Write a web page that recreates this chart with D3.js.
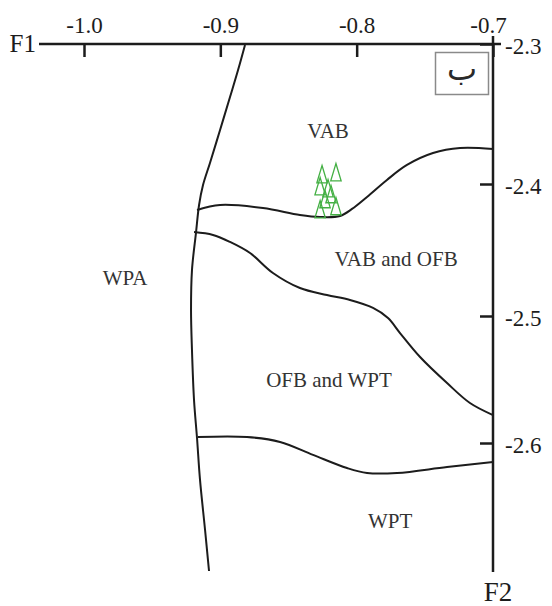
<!DOCTYPE html>
<html><head><meta charset="utf-8">
<script src="https://cdn.jsdelivr.net/npm/d3@7"></script>
<style>
html,body{margin:0;padding:0;background:#fff;}
svg{display:block;}
svg text{font-family:"Liberation Serif","DejaVu Serif","Times New Roman",serif;}
svg text.ar{font-family:"DejaVu Sans","Noto Sans",sans-serif;}
</style></head>
<body>
<svg id="chart" width="552" height="606"></svg>
<script>
// ---- data ----
const xTicks = [-1.0, -0.9, -0.8, -0.7];
const yTicks = [-2.3, -2.4, -2.5, -2.6];
const xLabel = "F1";
const yLabel = "F2";
const panelTag = "ب";

// WPA boundary (left)
const boundaryWPA = [
  [-0.8819,-2.3007],[-0.8870,-2.3186],[-0.8929,-2.3379],[-0.9002,-2.3614],
  [-0.9076,-2.3850],[-0.9127,-2.4008],[-0.9156,-2.4159],[-0.9178,-2.4364],
  [-0.9208,-2.4652],[-0.9215,-2.4955],[-0.9208,-2.5268],[-0.9193,-2.5661],
  [-0.9171,-2.5961],[-0.9149,-2.6291],[-0.9112,-2.6685],[-0.9083,-2.7008]
];
// VAB / VAB and OFB boundary
const boundaryVAB = [
  [-0.9171,-2.4197],[-0.9002,-2.4159],[-0.8687,-2.4182],[-0.8416,-2.4235],
  [-0.8269,-2.4250],[-0.8122,-2.4242],[-0.8034,-2.4189],[-0.7924,-2.4098],
  [-0.7778,-2.3971],[-0.7631,-2.3864],[-0.7440,-2.3779],[-0.7242,-2.3743],
  [-0.7000,-2.3750]
];
// VAB and OFB / OFB and WPT boundary
const boundaryOFB = [
  [-0.9193,-2.4364],[-0.9054,-2.4386],[-0.8929,-2.4439],[-0.8782,-2.4523],
  [-0.8614,-2.4674],[-0.8416,-2.4788],[-0.8218,-2.4841],[-0.8049,-2.4879],
  [-0.7880,-2.4939],[-0.7770,-2.5016],[-0.7682,-2.5134],[-0.7535,-2.5323],
  [-0.7337,-2.5528],[-0.7169,-2.5685],[-0.7000,-2.5780]
];
// OFB and WPT / WPT boundary
const boundaryWPT = [
  [-0.9164,-2.5953],[-0.8804,-2.5953],[-0.8562,-2.5992],[-0.8320,-2.6094],
  [-0.8071,-2.6197],[-0.7924,-2.6236],[-0.7704,-2.6236],[-0.7337,-2.6189],
  [-0.7000,-2.6150]
];
// samples (triangles)
const sampleF1 = [-0.8254,-0.8152,-0.8268,-0.8210,-0.8188,-0.8268,-0.8152,-0.8232];
const sampleF2 = [-2.3950,-2.3936,-2.4038,-2.4053,-2.4098,-2.4212,-2.4189,-2.4136];
// region labels
const regionNames = ["VAB","VAB and OFB","OFB and WPT","WPA","WPT"];
const regionF1 = [-0.8210,-0.7711,-0.8203,-0.9699,-0.7755];
const regionF2 = [-2.3671,-2.4621,-2.5559,-2.4765,-2.6669];

// ---- scales ----
const x = d3.scaleLinear().domain([-1.0,-0.7]).range([84,493]);
const y = d3.scaleLinear().domain([-2.3,-2.4,-2.5,-2.6,-2.7]).range([44,184,316,443,570]);

const svg = d3.select("#chart");
const ink = "#1c1c1c";

// boundaries
const line = d3.line().x(d=>x(d[0])).y(d=>y(d[1])).curve(d3.curveCatmullRom.alpha(0.5));
[boundaryWPA, boundaryVAB, boundaryOFB, boundaryWPT].forEach(b=>{
  svg.append("path").attr("d", line(b)).attr("fill","none")
    .attr("stroke",ink).attr("stroke-width",2);
});

// axes
const fmt = d=>d3.format(".1f")(d).replace("\u2212","-");
const axTop = svg.append("g").attr("transform",`translate(0,${y(-2.3)})`)
  .call(d3.axisTop(x).tickValues(xTicks).tickFormat(fmt).tickSize(-13).tickPadding(11));
const axRight = svg.append("g").attr("transform",`translate(${x(-0.7)},0)`)
  .call(d3.axisRight(y).tickValues(yTicks).tickFormat(fmt).tickSize(-13).tickPadding(12));
[axTop, axRight].forEach(g=>{
  g.select(".domain").remove();
  g.attr("font-family",null).attr("font-size",null);
  g.selectAll(".tick line").attr("stroke",ink).attr("stroke-width",2.5);
  g.selectAll(".tick text").style("font-size","23px").attr("fill",ink);
});
axTop.selectAll(".tick text").attr("dx",d=>d===-0.7?-5:0);
axRight.selectAll(".tick text").attr("dy","0.42em");

// axis lines
svg.append("line").attr("x1",39).attr("x2",x(-0.7)+8).attr("y1",y(-2.3)).attr("y2",y(-2.3))
  .attr("stroke",ink).attr("stroke-width",2.5);
svg.append("line").attr("x1",x(-0.7)).attr("x2",x(-0.7)).attr("y1",y(-2.3)-8).attr("y2",y(-2.7)+2)
  .attr("stroke",ink).attr("stroke-width",2.5);

// axis titles
svg.append("text").attr("x",36).attr("y",y(-2.3)+8).attr("text-anchor","end")
  .style("font-size","25px").attr("fill",ink).text(xLabel);
svg.append("text").attr("x",x(-0.7)+5).attr("y",601).attr("text-anchor","middle")
  .style("font-size","27px").attr("fill",ink).text(yLabel);

// panel tag box
svg.append("rect").attr("x",435.5).attr("y",52.5).attr("width",53).attr("height",42)
  .attr("fill","#fff").attr("stroke","#8a8a8a").attr("stroke-width",1.5);
svg.append("text").attr("class","ar").attr("x",462).attr("y",80).attr("text-anchor","middle")
  .style("font-size","32px").attr("fill","#2a2a2a").text(panelTag);

// region labels
svg.append("g").selectAll("text").data(regionNames).join("text")
  .attr("x",(d,i)=>x(regionF1[i])).attr("y",(d,i)=>y(regionF2[i]))
  .attr("text-anchor","middle").style("font-size","21px")
  .attr("fill","#333").text(d=>d);

// triangles (tall open triangles)
const triPath = d3.line()([[0,-11.5],[5.2,5.8],[-5.2,5.8]]) + "Z";
svg.append("g").selectAll("path").data(sampleF1).join("path")
  .attr("d", triPath)
  .attr("transform",(d,i)=>`translate(${x(d)},${y(sampleF2[i])})`)
  .attr("fill","none").attr("stroke","#44b044").attr("stroke-width",1.3);
</script>
</body></html>
